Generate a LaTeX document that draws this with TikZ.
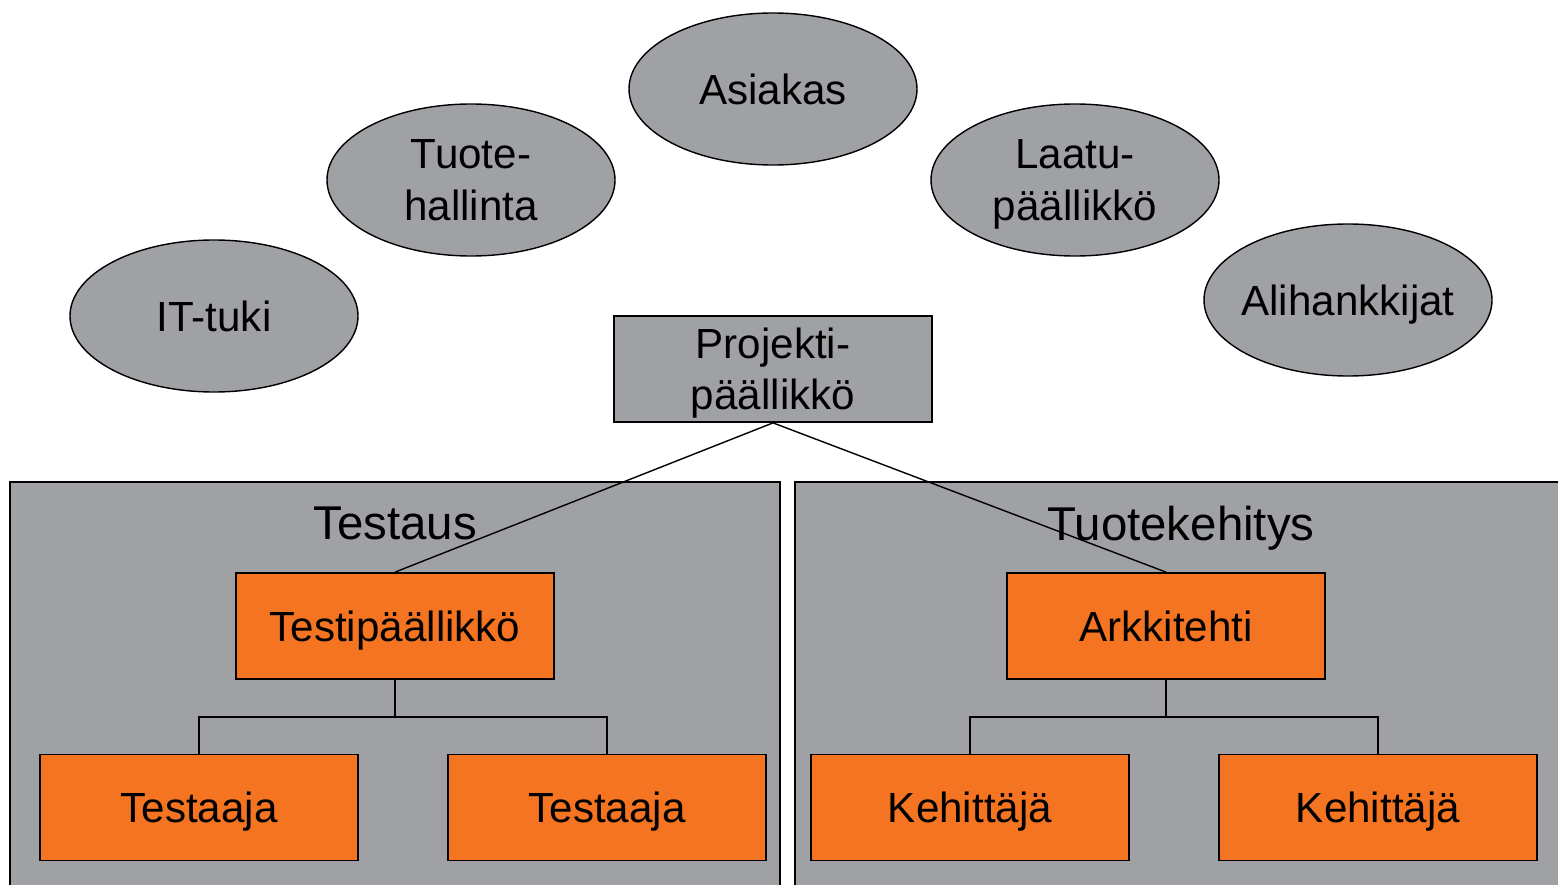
\documentclass[tikz,border=0pt]{standalone}
\usepackage{fontspec}
\setmainfont{Liberation Sans}
\usetikzlibrary{shapes.geometric}
\definecolor{panelgray}{RGB}{160,161,165}
\definecolor{boxorange}{RGB}{244,116,33}
\newlength{\pxu}
\setlength{\pxu}{0.02cm}
\tikzset{
  oval/.style={ellipse, draw=black, line width=0.8pt, fill=panelgray, minimum width=288\pxu, minimum height=152\pxu, inner sep=0pt, align=center, text depth=0pt, font=\fontsize{24}{30}\selectfont},
  graybox/.style={rectangle, draw=black, line width=1pt, fill=panelgray, minimum width=318\pxu, minimum height=106\pxu, inner sep=0pt, align=center, text depth=0pt, font=\fontsize{24}{29}\selectfont},
  orangebox/.style={rectangle, draw=black, line width=1pt, fill=boxorange, minimum width=318\pxu, minimum height=106\pxu, inner sep=0pt, align=center, text depth=0pt, font=\fontsize{24}{28}\selectfont},
  panel/.style={draw=black, line width=1pt, fill=panelgray},
  heading/.style={font=\fontsize{27}{32}\selectfont, inner sep=0pt, text depth=0pt},
  conn/.style={draw=black, line width=0.8pt}
}
\begin{document}
\begin{tikzpicture}[x=0.02cm,y=-0.02cm]
\useasboundingbox (0,0) rectangle (1558,885);
\clip (0,0) rectangle (1558,885);
% panels
\path[panel] (10,482) rectangle (780,900);
\path[panel] (795,482) rectangle (1570,900);
\node[heading] (testaus) at (395,523) {Testaus};
\node[heading] (tuotekehitys) at (1181,523) {Tuotekehitys};
% ellipses
\node[oval] (asiakas) at (773,89) {Asiakas};
\node[oval] (tuote) at (471,180) {Tuote-\\hallinta};
\node[oval] (laatu) at (1075,180) {Laatu-\\päällikkö};
\node[oval] (ittuki) at (214,316) {IT-tuki};
\node[oval] (ali) at (1348,300) {\makebox[0pt]{Alihankkijat}};
% boxes
\node[graybox] (pp) at (773,369) {Projekti-\\päällikkö};
\node[orangebox] (tp) at (395,626) {Testipäällikkö};
\node[orangebox] (t1) at (199,807.5) {Testaaja};
\node[orangebox] (t2) at (607,807.5) {Testaaja};
\node[orangebox] (ark) at (1166,626) {Arkkitehti};
\node[orangebox] (k1) at (970,807.5) {Kehittäjä};
\node[orangebox] (k2) at (1378,807.5) {Kehittäjä};
% connectors
\draw[conn] (pp.south) -- (tp.north);
\draw[conn] (pp.south) -- (ark.north);
\draw[conn] (tp.south) -- ++(0,37) -| (t1.north);
\draw[conn] (tp.south) -- ++(0,37) -| (t2.north);
\draw[conn] (ark.south) -- ++(0,37) -| (k1.north);
\draw[conn] (ark.south) -- ++(0,37) -| (k2.north);
\end{tikzpicture}
\end{document}
